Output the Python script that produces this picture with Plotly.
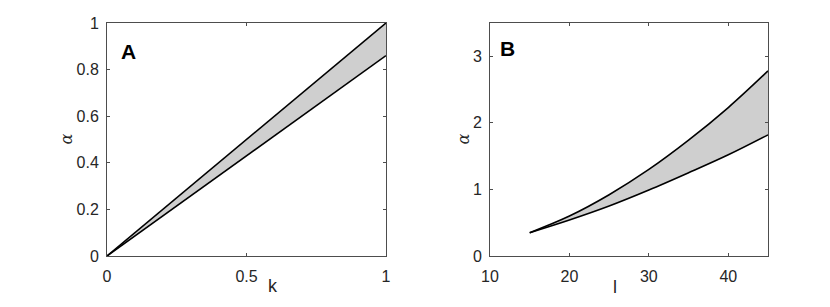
import plotly.graph_objects as go

# Panel A data
k_vals = [0.0, 1.0]
alpha_a_upper = [0.0, 1.0]
alpha_a_lower = [0.0, 0.86]

# Panel B data
l_vals = [15, 20, 25, 30, 35, 40, 45]
alpha_b_upper = [0.35, 0.60, 0.92, 1.30, 1.74, 2.23, 2.78]
alpha_b_lower = [0.35, 0.54, 0.75, 0.99, 1.25, 1.52, 1.82]

a_xticks = [0, 0.5, 1]
a_yticks = [0, 0.2, 0.4, 0.6, 0.8, 1]
b_xticks = [10, 20, 30, 40]
b_yticks = [0, 1, 2, 3]

FILL = "#cfcfcf"
AXC = "#4d4d4d"
FONT = "Liberation Sans"
W, H = 830, 307
OFF = 8  # page body margin offset

def px_x(p):
    return (p - OFF) / W

def px_y(p):
    return 1 - (p - OFF) / H

fig = go.Figure()

def add_band(x, lo, hi, xa, ya, shape):
    fig.add_trace(go.Scatter(x=x, y=lo, mode="lines", line=dict(width=0, color=FILL, shape=shape),
                             xaxis=xa, yaxis=ya, showlegend=False, hoverinfo="skip"))
    fig.add_trace(go.Scatter(x=x, y=hi, mode="lines", line=dict(width=0, color=FILL, shape=shape),
                             fill="tonexty", fillcolor=FILL,
                             xaxis=xa, yaxis=ya, showlegend=False, hoverinfo="skip"))
    fig.add_trace(go.Scatter(x=x, y=lo, mode="lines", line=dict(width=1.6, color="black", shape=shape),
                             xaxis=xa, yaxis=ya, showlegend=False))
    fig.add_trace(go.Scatter(x=x, y=hi, mode="lines", line=dict(width=1.6, color="black", shape=shape),
                             xaxis=xa, yaxis=ya, showlegend=False))

add_band(k_vals, alpha_a_lower, alpha_a_upper, "x", "y", "linear")
add_band(l_vals, alpha_b_lower, alpha_b_upper, "x2", "y2", "spline")

axis_common = dict(showline=True, linecolor=AXC, linewidth=1, mirror="ticks", ticks="inside",
                   ticklen=3, tickcolor=AXC, showgrid=False, zeroline=False, automargin=False,
                   tickfont=dict(family=FONT, size=16, color="#262626"))
xax = dict(ticklabelstandoff=6, **axis_common)
yax = dict(ticklabelstandoff=4, **axis_common)

fig.update_layout(
    width=W, height=H,
    margin=dict(l=0, r=0, t=0, b=0),
    paper_bgcolor="white", plot_bgcolor="white",
    xaxis=dict(domain=[px_x(107), px_x(386)], range=[0, 1], tickvals=a_xticks,
               ticktext=["0", "0.5", "1"], anchor="y", **xax),
    yaxis=dict(domain=[px_y(256), px_y(23)], range=[0, 1], tickvals=a_yticks,
               ticktext=["0", "0.2", "0.4", "0.6", "0.8", "1"], anchor="x", **yax),
    xaxis2=dict(domain=[px_x(490), px_x(768)], range=[10, 45], tickvals=b_xticks, anchor="y2", **xax),
    yaxis2=dict(domain=[px_y(256), px_y(23)], range=[0, 3.5], tickvals=b_yticks, anchor="x2", **yax),
)

ann = []
lab_font = dict(family=FONT, size=18, color="#262626")
ann.append(dict(text="k", xref="x domain", yref="y domain", x=(273-107)/279, y=0, yshift=-30,
                showarrow=False, font=lab_font, xanchor="center", yanchor="middle"))
ann.append(dict(text="l", xref="x2 domain", yref="y2 domain", x=(615-490)/278, y=0, yshift=-31,
                showarrow=False, font=lab_font, xanchor="center", yanchor="middle"))
alpha_font = dict(family="DejaVu Serif", size=16, color="#262626")
ann.append(dict(text="<i>α</i>", xref="paper", yref="y domain", x=px_x(66), y=0.5, textangle=-90,
                showarrow=False, font=alpha_font, xanchor="center", yanchor="middle"))
ann.append(dict(text="<i>α</i>", xref="paper", yref="y2 domain", x=px_x(463), y=0.5, textangle=-90,
                showarrow=False, font=alpha_font, xanchor="center", yanchor="middle"))
panel_font = dict(family=FONT, size=21, color="black")
ann.append(dict(text="<b>A</b>", xref="x domain", yref="y domain", x=(128-107)/279, y=(256-51)/233,
                showarrow=False, font=panel_font, xanchor="center", yanchor="middle"))
ann.append(dict(text="<b>B</b>", xref="x2 domain", yref="y2 domain", x=(507-490)/278, y=(257-49)/234,
                showarrow=False, font=panel_font, xanchor="center", yanchor="middle"))
fig.update_layout(annotations=ann)

fig.write_html("out.html")
